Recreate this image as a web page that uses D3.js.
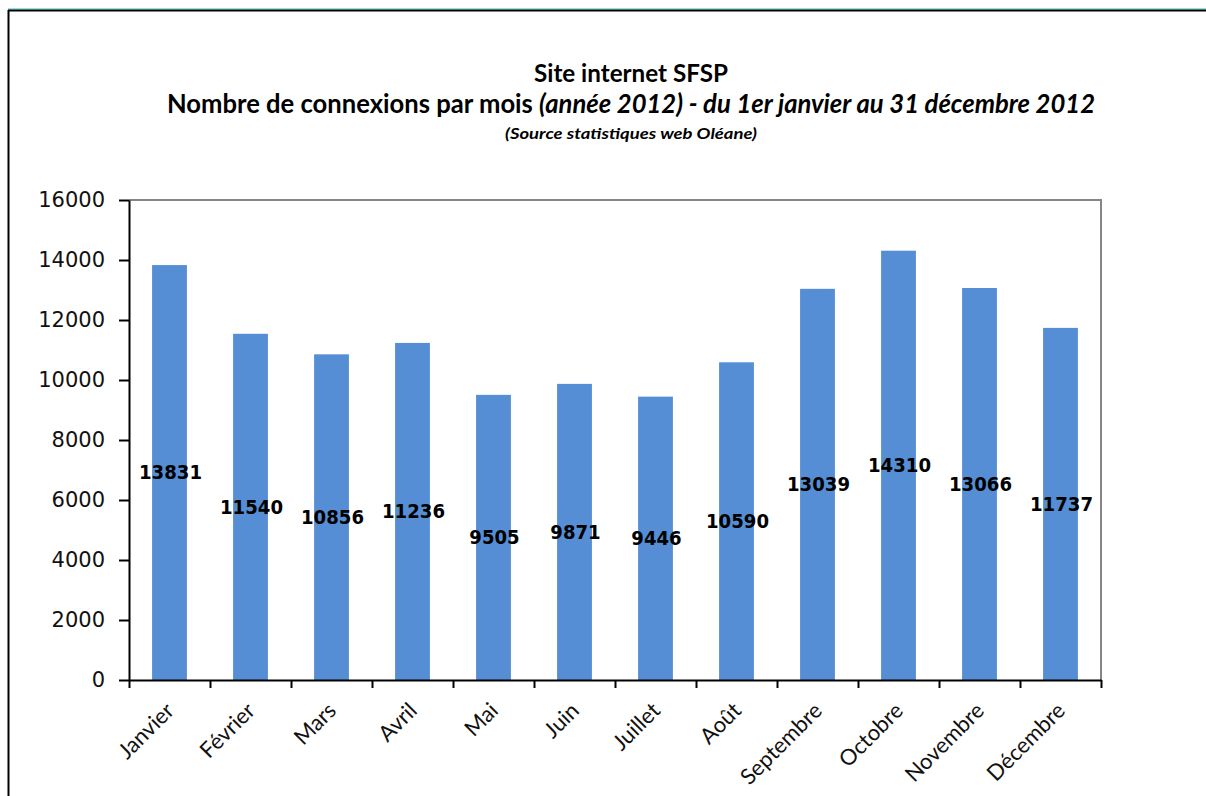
<!DOCTYPE html>
<html>
<head>
<meta charset="utf-8">
<script src="https://cdn.jsdelivr.net/npm/d3@7"></script>
<style>
  body { margin: 0; background: #fff; }
</style>
</head>
<body>
<div id="chart"></div>
<script>
// data
const months = ['Janvier', 'Février', 'Mars', 'Avril', 'Mai', 'Juin', 'Juillet', 'Août',
    'Septembre', 'Octobre', 'Novembre', 'Décembre'];
const connexions = [13831, 11540, 10856, 11236, 9505, 9871, 9446, 10590, 13039, 14310, 13066, 11737];
const yTicks = [0, 2000, 4000, 6000, 8000, 10000, 12000, 14000, 16000];

const W = 1206, H = 796;
const plot = { left: 129, right: 1101, top: 200, bottom: 680 };

const svg = d3.select('#chart')
    .append('svg')
    .attr('width', W)
    .attr('height', H);

// outer frame (top + left only)
svg.append('line')
    .attr('x1', 8).attr('x2', W).attr('y1', 9).attr('y2', 9)
    .attr('stroke', '#2ec4c8').attr('stroke-width', 1);
svg.append('line')
    .attr('x1', 8).attr('x2', W).attr('y1', 10.5).attr('y2', 10.5)
    .attr('stroke', '#000').attr('stroke-width', 2);
svg.append('line')
    .attr('x1', 8.5).attr('x2', 8.5).attr('y1', 10).attr('y2', H)
    .attr('stroke', '#000').attr('stroke-width', 2);

// titles
const titleX = 631;
svg.append('text')
    .attr('x', titleX).attr('y', 82)
    .attr('text-anchor', 'middle')
    .attr('font-family', 'Lato, sans-serif')
    .attr('font-weight', 'bold')
    .attr('font-size', 24)
    .attr('textLength', 194)
    .attr('lengthAdjust', 'spacingAndGlyphs')
    .text('Site internet SFSP');

const t2 = svg.append('text')
    .attr('x', titleX).attr('y', 113)
    .attr('text-anchor', 'middle')
    .attr('font-family', 'Lato, sans-serif')
    .attr('font-weight', 'bold')
    .attr('font-size', 26)
    .attr('textLength', 928)
    .attr('lengthAdjust', 'spacingAndGlyphs');
t2.append('tspan').text('Nombre de connexions par mois ');
t2.append('tspan').attr('font-style', 'italic').text('(année 2012) - du 1er janvier au 31 décembre 2012');

svg.append('text')
    .attr('x', titleX).attr('y', 139)
    .attr('text-anchor', 'middle')
    .attr('font-family', 'Lato, sans-serif')
    .attr('font-weight', 'bold')
    .attr('font-style', 'italic')
    .attr('font-size', 15)
    .attr('textLength', 252)
    .attr('lengthAdjust', 'spacingAndGlyphs')
    .text('(Source statistiques web Oléane)');

// scales
const x = d3.scaleBand()
    .domain(months)
    .range([plot.left, plot.right])
    .paddingInner(0.57)
    .paddingOuter(0.285);
const xEdges = d3.scaleLinear()
    .domain([0, months.length])
    .range([plot.left, plot.right]);
const y = d3.scaleLinear()
    .domain([0, 16000])
    .range([plot.bottom, plot.top]);

// gray top/right border of plot area
svg.append('path')
    .attr('d', `M${plot.left},${plot.top}H${plot.right}V${plot.bottom}`)
    .attr('fill', 'none')
    .attr('stroke', '#868686')
    .attr('stroke-width', 2);

// bars
svg.append('g')
    .selectAll('rect')
    .data(connexions)
    .join('rect')
    .attr('x', (d, i) => x(months[i]))
    .attr('y', d => y(d))
    .attr('width', x.bandwidth())
    .attr('height', d => y(0) - y(d))
    .attr('fill', '#558ed5');

// data labels in the middle of each bar
svg.append('g')
    .selectAll('text')
    .data(connexions)
    .join('text')
    .attr('x', (d, i) => x(months[i]) + x.bandwidth() / 2 + 1)
    .attr('y', d => y(d / 2))
    .attr('dy', '0.36em')
    .attr('text-anchor', 'middle')
    .attr('font-family', 'DejaVu Sans, sans-serif')
    .attr('font-weight', 'bold')
    .attr('font-size', 19)
    .attr('textLength', d => String(d).length * 12.6)
    .attr('lengthAdjust', 'spacingAndGlyphs')
    .attr('fill', '#000')
    .text(d => d);

// y axis
svg.append('g')
    .attr('transform', `translate(${plot.left},0)`)
    .call(d3.axisLeft(y).tickValues(yTicks).tickFormat(d3.format('d'))
        .tickSize(10).tickPadding(14).tickSizeOuter(0))
    .call(g => g.select('.domain').attr('stroke-width', 2))
    .call(g => g.selectAll('.tick line').attr('stroke-width', 2))
    .call(g => g.selectAll('.tick text')
        .attr('font-family', 'DejaVu Sans, sans-serif')
        .attr('font-size', 21)
        .attr('fill', '#111'));

// x axis: ticks at category edges
svg.append('g')
    .attr('transform', `translate(0,${plot.bottom})`)
    .call(d3.axisBottom(xEdges).ticks(months.length).tickSize(8).tickFormat('').tickSizeOuter(0))
    .call(g => g.select('.domain').attr('stroke-width', 2))
    .call(g => g.selectAll('.tick line').attr('stroke-width', 2));

// month labels, rotated
svg.append('g')
    .selectAll('text')
    .data(months)
    .join('text')
    .attr('transform', d => `translate(${x(d) + x.bandwidth() / 2 + 6},${plot.bottom + 32}) rotate(-45)`)
    .attr('text-anchor', 'end')
    .attr('font-family', 'Lato, sans-serif')
    .attr('font-size', 22)
    .attr('fill', '#111')
    .text(d => d);
</script>
</body>
</html>
